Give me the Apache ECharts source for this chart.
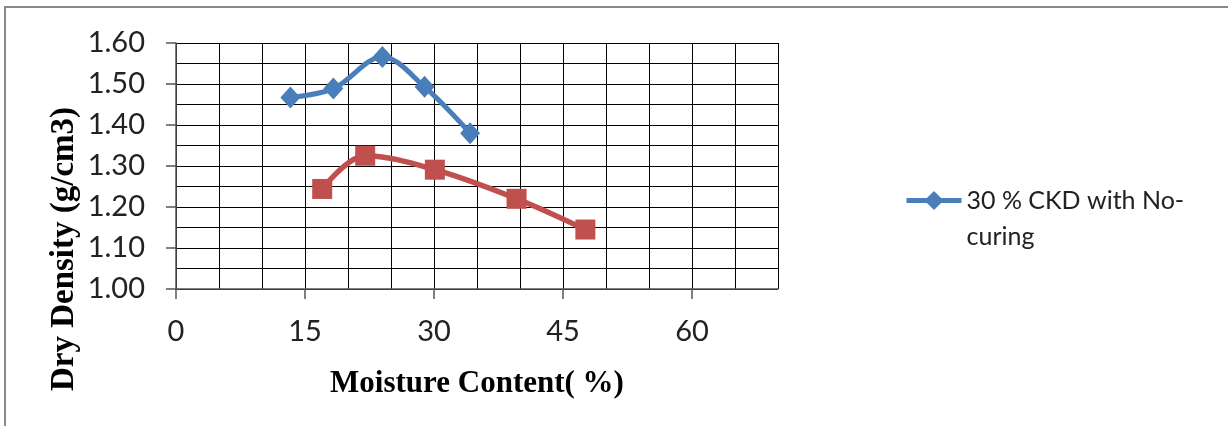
<!DOCTYPE html>
<html>
<head>
<meta charset="utf-8">
<script src="https://cdn.jsdelivr.net/npm/echarts@6/dist/echarts.min.js"></script>
<style>
  html, body { margin: 0; padding: 0; background: #fff; }
  #chart { width: 1228px; height: 426px; }
</style>
</head>
<body>
<div id="chart"></div>
<script>
// Data
const blueName = '30 % CKD with No-curing';
const blueMoisture = [13.3, 18.3, 24.0, 28.9, 34.2];
const blueDensity  = [1.467, 1.489, 1.566, 1.493, 1.380];

const redName = '30 % CKD cured';
const redMoisture = [17.0, 22.0, 30.1, 39.6, 47.6];
const redDensity  = [1.244, 1.325, 1.291, 1.220, 1.145];

const xTickLabels = [0, 15, 30, 45, 60];
const yTickLabels = [1.00, 1.10, 1.20, 1.30, 1.40, 1.50, 1.60];

const xTitle = 'Moisture Content( %)';
const yTitle = 'Dry Density (g/cm3)';

const pairs = (xs, ys) => xs.map((x, i) => [x, ys[i]]);

const chart = echarts.init(document.getElementById('chart'), null, { renderer: 'canvas' });
const tickFont = 'Lato, "Open Sans", sans-serif';
const axisColor = '#555';

chart.setOption({
  animation: false,
  backgroundColor: '#ffffff',
  grid: { left: 176, top: 43, width: 602, height: 246, containLabel: false },
  xAxis: [
    { // grid lines every 5
      type: 'value', min: 0, max: 70, interval: 5, position: 'bottom',
      axisLine: { show: false }, axisTick: { show: false }, axisLabel: { show: false },
      splitLine: { show: true, lineStyle: { color: '#000', width: 1 } }
    },
    { // labelled ticks every 15
      type: 'value', min: 0, max: 70, interval: 5, position: 'bottom', offset: 0,
      name: xTitle, nameLocation: 'middle', nameGap: 79,
      nameTextStyle: { fontFamily: '"Liberation Serif", serif', fontWeight: 'bold', fontSize: 31, color: '#000' },
      axisLine: { show: true, onZero: false, lineStyle: { color: axisColor, width: 1.5 } },
      axisTick: { show: true, length: 10, inside: false, customValues: xTickLabels, lineStyle: { color: axisColor, width: 1.5 } },
      axisLabel: { customValues: xTickLabels, margin: 28, fontFamily: tickFont, fontSize: 29, color: '#222' },
      splitLine: { show: false }
    }
  ],
  yAxis: [
    {
      type: 'value', min: 1.0, max: 1.6, interval: 0.05, position: 'left',
      axisLine: { show: false }, axisTick: { show: false }, axisLabel: { show: false },
      splitLine: { show: true, lineStyle: { color: '#000', width: 1 } }
    },
    {
      type: 'value', min: 1.0, max: 1.6, interval: 0.05, position: 'left', offset: 0,
      axisLine: { show: true, onZero: false, lineStyle: { color: axisColor, width: 1.5 } },
      axisTick: { show: true, length: 10, inside: false, customValues: yTickLabels, lineStyle: { color: axisColor, width: 1.5 } },
      axisLabel: { customValues: yTickLabels, margin: 31, fontFamily: tickFont, fontSize: 29, color: '#222',
        formatter: v => Number(v).toFixed(2) },
      splitLine: { show: false }
    }
  ],
  legend: {
    data: [blueName],
    left: 899, top: 147,
    orient: 'vertical',
    itemWidth: 55, itemHeight: 24,
    lineStyle: { width: 5 },
    formatter: () => '{e| }\n{t|30 % CKD with No-}\n{t|curing}',
    textStyle: {
      color: '#222',
      rich: {
        e: { fontSize: 25, lineHeight: 36, fontFamily: tickFont },
        t: { fontSize: 25, lineHeight: 36, fontFamily: tickFont, color: '#222' }
      }
    }
  },
  graphic: [
    { type: 'line', shape: { x1: 4, y1: 7, x2: 1228, y2: 7 }, style: { stroke: '#8a8a8a', lineWidth: 2 }, silent: true },
    { type: 'line', shape: { x1: 5, y1: 7, x2: 5, y2: 426 }, style: { stroke: '#8a8a8a', lineWidth: 2 }, silent: true },
    { type: 'text', x: 64, y: 249, rotation: Math.PI / 2,
      style: { text: yTitle, font: 'bold 33px "Liberation Serif", serif', fill: '#000', align: 'center', verticalAlign: 'middle' } }
  ],
  series: [
    {
      name: blueName, type: 'line', smooth: 0.35,
      xAxisIndex: 0, yAxisIndex: 0,
      data: pairs(blueMoisture, blueDensity),
      symbol: 'diamond', symbolSize: [20, 22],
      lineStyle: { color: '#4A7EBB', width: 5 },
      itemStyle: { color: '#4A7EBB' },
      z: 3
    },
    {
      name: redName, type: 'line', smooth: 0.35,
      xAxisIndex: 0, yAxisIndex: 0,
      data: pairs(redMoisture, redDensity),
      symbol: 'rect', symbolSize: 20,
      lineStyle: { color: '#C0504D', width: 5.5 },
      itemStyle: { color: '#C0504D' },
      z: 3
    }
  ]
});
</script>
</body>
</html>
